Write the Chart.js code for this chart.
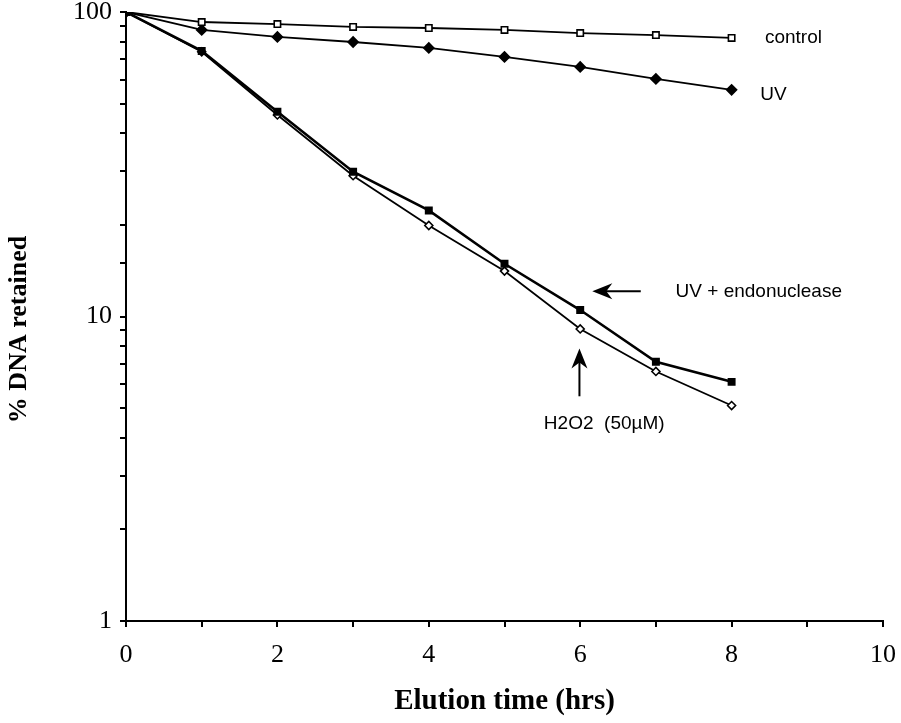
<!DOCTYPE html>
<html>
<head>
<meta charset="utf-8">
<script src="https://cdn.jsdelivr.net/npm/chart.js@4/dist/chart.umd.min.js"></script>
<style>
  html, body { margin: 0; padding: 0; background: #fff; }
  #wrap { width: 901px; height: 723px; position: relative; }
</style>
</head>
<body>
<div id="wrap"><canvas id="elutionChart"></canvas></div>
<script>
// elution time in hours
const hours = [0, 1, 2, 3, 4, 5, 6, 7, 8];
// % DNA retained per treatment
const control = [100, 92.7, 91.3, 89.3, 88.6, 87.3, 85.3, 84.0, 82.2];
const uv = [100, 87.3, 82.8, 79.7, 76.2, 71.2, 66.0, 60.3, 55.5];
const uvEndo = [100, 74.5, 47.0, 29.9, 22.3, 14.9, 10.5, 7.1, 6.1];
const h2o2 = [100, 74.0, 45.9, 29.0, 19.9, 14.1, 9.1, 6.6, 5.1];

const xTickLabels = ['0', '2', '4', '6', '8', '10'];
const yTickLabels = ['1', '10', '100'];

// text notes and arrows, in data units
const notes = [
    { text: 'control', x: 8.44, y: 82.2 },
    { text: 'UV', x: 8.38, y: 53.5 },
    { text: 'UV + endonuclease', x: 7.26, y: 12.1 },
    { text: 'H2O2  (50\u00b5M)', x: 5.52, y: 4.45 }
];
const arrows = [
    { from: [6.8, 12.1], to: [6.16, 12.1] },
    { from: [5.99, 5.47], to: [5.99, 7.85] }
];

const pts = (ys) => hours.map((h, i) => ({ x: h, y: ys[i] }));

const serif = '"Liberation Serif", "Times New Roman", serif';
const sans = '"Liberation Sans", Arial, sans-serif';

const notesPlugin = {
    id: 'notes',
    afterDatasetsDraw(chart) {
        const { ctx, scales: { x, y } } = chart;
        ctx.save();
        ctx.fillStyle = '#000';
        ctx.strokeStyle = '#000';
        ctx.font = '19px ' + sans;
        ctx.textBaseline = 'middle';
        ctx.textAlign = 'left';
        notes.forEach(n => ctx.fillText(n.text, x.getPixelForValue(n.x), y.getPixelForValue(n.y)));
        arrows.forEach(a => {
            const x1 = x.getPixelForValue(a.from[0]), y1 = y.getPixelForValue(a.from[1]);
            const x2 = x.getPixelForValue(a.to[0]), y2 = y.getPixelForValue(a.to[1]);
            const c = Math.cos(Math.atan2(y2 - y1, x2 - x1)), s = Math.sin(Math.atan2(y2 - y1, x2 - x1));
            ctx.lineWidth = 2;
            ctx.beginPath();
            ctx.moveTo(x1, y1);
            ctx.lineTo(x2 - 10 * c, y2 - 10 * s);
            ctx.stroke();
            // concave arrow head
            ctx.beginPath();
            ctx.moveTo(x2, y2);
            ctx.lineTo(x2 - 20 * c + 8 * s, y2 - 20 * s - 8 * c);
            ctx.lineTo(x2 - 14 * c, y2 - 14 * s);
            ctx.lineTo(x2 - 20 * c - 8 * s, y2 - 20 * s + 8 * c);
            ctx.closePath();
            ctx.fill();
        });
        ctx.restore();
    }
};

const base = { borderColor: '#000', borderWidth: 1.8, pointBorderColor: '#000', pointBorderWidth: 1.6, pointRadius: 4, showLine: true, tension: 0 };

const ctx = document.getElementById('elutionChart').getContext('2d');
const chart = new Chart(ctx, {
    type: 'scatter',
    data: {
        datasets: [
            { ...base, label: 'UV + endonuclease', data: pts(uvEndo), pointStyle: 'rect', pointBackgroundColor: '#000', borderWidth: 2.6, pointRadius: 4.5 },
            { ...base, label: 'H2O2 (50\u00b5M)', data: pts(h2o2), pointStyle: 'rectRot', pointBackgroundColor: '#fff', pointRadius: 4 },
            { ...base, label: 'control', data: pts(control), pointStyle: 'rect', pointBackgroundColor: '#fff', pointRadius: 4.5 },
            { ...base, label: 'UV', data: pts(uv), pointStyle: 'rectRot', pointBackgroundColor: '#000', pointRadius: 5 }
        ]
    },
    options: {
        responsive: true,
        maintainAspectRatio: false,
        animation: false,
        layout: { padding: { top: 12, right: 18, left: 0, bottom: 0 } },
        scales: {
            x: {
                type: 'linear', min: 0, max: 10,
                border: { color: '#000', width: 2 },
                grid: { drawOnChartArea: false, color: '#000', tickLength: 6, lineWidth: 2 },
                ticks: {
                    stepSize: 1, autoSkip: false, color: '#000', padding: 13,
                    font: { family: serif, size: 26 },
                    callback: (v) => xTickLabels.includes(String(v)) ? String(v) : ''
                },
                title: { display: true, text: 'Elution time (hrs)', color: '#000', font: { family: serif, size: 29, weight: 'bold' } },
                afterFit: (s) => { s.height = 102; s.paddingLeft = 0; s.paddingRight = 0; }
            },
            y: {
                type: 'logarithmic', min: 1, max: 100,
                border: { color: '#000', width: 2 },
                grid: { drawOnChartArea: false, color: '#000', tickLength: 6, lineWidth: 2 },
                ticks: {
                    autoSkip: false, color: '#000', padding: 8,
                    font: { family: serif, size: 26 },
                    callback: (v) => yTickLabels.includes(String(v)) ? String(v) : ''
                },
                title: { display: true, text: '% DNA retained\u00a0\u00a0\u00a0\u00a0', color: '#000', font: { family: serif, size: 26, weight: 'bold' } },
                afterFit: (s) => { s.width = 126; s.paddingTop = 0; s.paddingBottom = 0; }
            }
        },
        plugins: { legend: { display: false }, tooltip: { enabled: false } }
    },
    plugins: [notesPlugin]
});
</script>
</body>
</html>
